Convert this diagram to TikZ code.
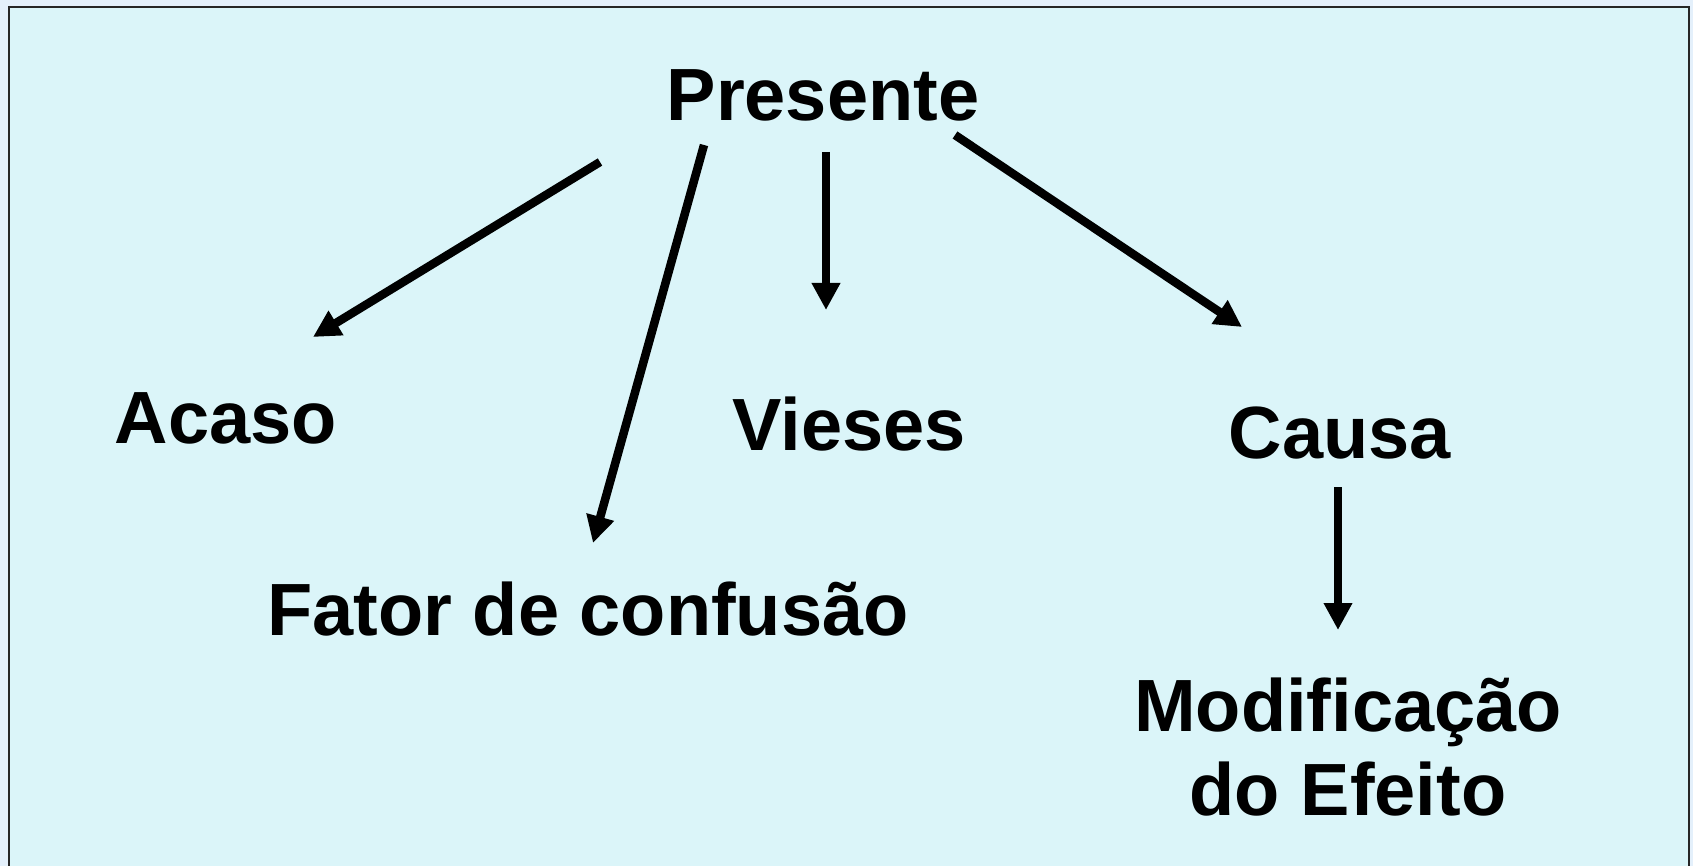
\documentclass[tikz,border=0pt]{standalone}
\usepackage{fontspec}
\setmainfont{Liberation Sans}
\usetikzlibrary{arrows.meta}
\definecolor{outerbg}{HTML}{E4F0FB}
\definecolor{innerbg}{HTML}{DBF5F9}
\begin{document}
\begin{tikzpicture}[x=1pt,y=-1pt,
  lbl/.style={anchor=base,inner sep=0pt,font=\bfseries\fontsize{74}{84}\selectfont,align=center},
  arr/.style={line width=8.5pt,-{Triangle[length=27pt,width=27pt]}}]
\fill[outerbg] (0,0) rectangle (1693,866);
\useasboundingbox (0,0) rectangle (1693,866);
\filldraw[fill=innerbg,draw=black!85,line width=2.5pt] (9,7) rectangle (1689,880);
\node[lbl] (pres) at (823,121) {Presente};
\node[lbl] (acaso) at (226,443) {Acaso};
\node[lbl] (vieses) at (849,450) {Vieses};
\node[lbl] (causa) at (1340,458) {Causa};
\node[lbl] (fator) at (588,635) {Fator de confusão};
\node[lbl] (modif) at (1348,815) {Modificação\\do Efeito};
\coordinate (a1s) at (600,162); \coordinate (a1e) at (313,337);
\coordinate (a2s) at (704,145); \coordinate (a2e) at (593,543);
\coordinate (a3s) at (826,152); \coordinate (a3e) at (826,310);
\coordinate (a4s) at (955,135); \coordinate (a4e) at (1242,327);
\coordinate (a5s) at (1338,487); \coordinate (a5e) at (1338,630);
\draw[arr] (a1s) -- (a1e);
\draw[arr] (a2s) -- (a2e);
\draw[arr] (a3s) -- (a3e);
\draw[arr] (a4s) -- (a4e);
\draw[arr] (a5s) -- (a5e);
\end{tikzpicture}
\end{document}
